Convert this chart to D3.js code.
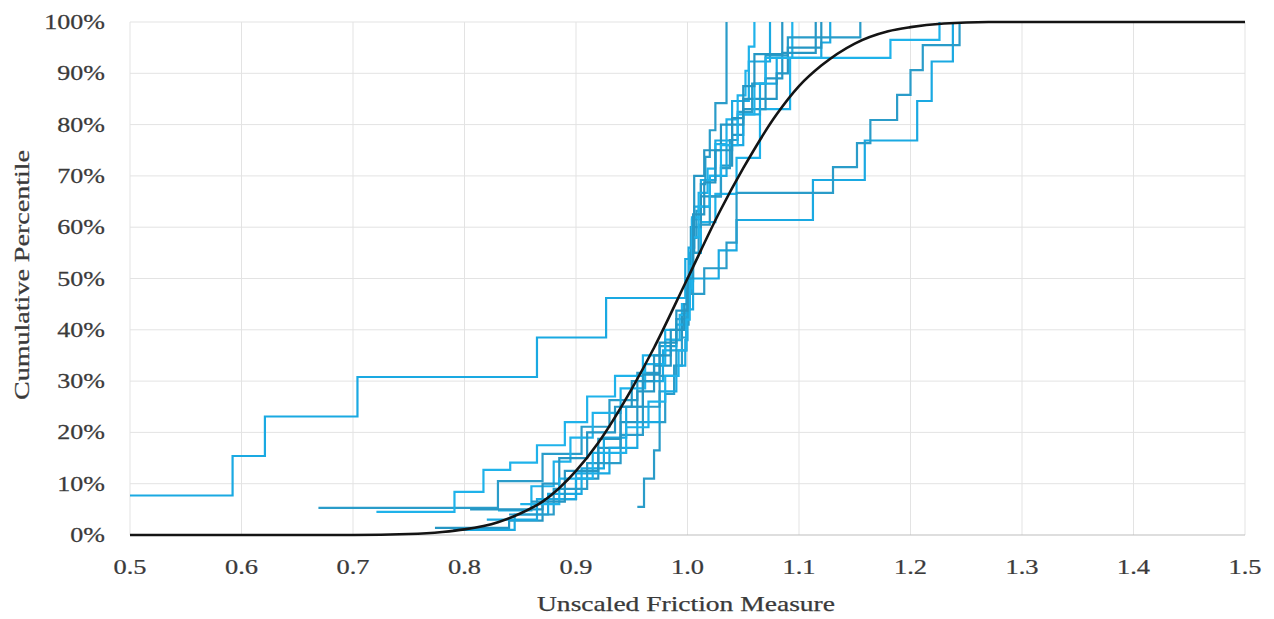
<!DOCTYPE html>
<html><head><meta charset="utf-8">
<script src="https://cdn.jsdelivr.net/npm/d3@7"></script>
<style>
html,body{margin:0;padding:0;background:#fff;}
svg{display:block;}
text{font-family:"Times New Roman","Liberation Serif",serif;fill:#3a3a3a;stroke:#3a3a3a;stroke-width:0.25;}
</style></head>
<body>
<svg id="chart" width="1274" height="619"></svg>
<script>
// ---- data (x = unscaled friction measure, y = cumulative percentile %) ----
const xTicks = [0.5,0.6,0.7,0.8,0.9,1.0,1.1,1.2,1.3,1.4,1.5];
const yTicks = [0,10,20,30,40,50,60,70,80,90,100];

const seriesA = [[0.5,7.7],[0.592,15.4],[0.621,23.1],[0.704,30.8],[0.865,38.5],[0.927,46.2],[0.998,53.8],[1.004,61.5],[1.012,69.2],[1.025,76.9],[1.04,84.6],[1.055,92.3],[1.074,100]];
const seriesB = [[0.669,5.3],[0.83,10.5],[0.87,15.8],[0.905,21.1],[0.93,26.3],[0.955,31.6],[0.975,36.8],[0.99,42.1],[1.0,47.4],[1.003,52.6],[1.005,57.9],[1.008,63.2],[1.012,68.4],[1.016,73.7],[1.02,78.9],[1.025,84.2],[1.035,100]];
const seriesC = [[0.721,4.5],[0.791,8.4],[0.817,12.7],[0.841,14.1],[0.865,17.5],[0.89,22],[0.91,27],[0.935,31],[0.96,35],[0.98,40],[0.995,45],[1.002,55],[1.012,61],[1.025,66.5],[1.044,73.5],[1.065,83],[1.092,93],[1.094,100]];
const seriesD = [[0.7735,1.4],[0.84,2.8],[0.87,7],[0.9,11],[0.92,17],[0.94,22],[0.955,28],[0.97,33],[0.985,38],[0.995,43],[1.0,48],[1.003,60],[1.012,66],[1.03,72],[1.04,78],[1.05,83],[1.07,89],[1.085,94],[1.115,100]];
const seriesE = [[0.79,1.0],[0.845,4],[0.875,8],[0.905,13],[0.925,19],[0.945,25],[0.96,30],[0.978,36],[0.99,41],[0.999,46],[1.001,56],[1.006,64],[1.02,70],[1.035,76],[1.05,82],[1.065,88],[1.08,93],[1.12,96],[1.128,100]];
const seriesF = [[0.955,5.5],[0.961,11],[0.97,16.5],[0.975,22],[0.98,27.5],[0.988,33],[0.995,38.5],[0.999,44],[1.002,49.5],[1.005,55],[1.01,60.5],[1.02,66],[1.03,71.5],[1.038,77],[1.045,82.5],[1.058,88],[1.07,93.5],[1.09,97],[1.155,100]];
const seriesG = [[0.83,4.8],[0.86,9.5],[0.88,14.3],[0.895,19],[0.915,23.8],[0.94,28.6],[0.962,33.3],[0.98,38.1],[0.993,42.9],[1.0,47.6],[1.002,52.4],[1.004,61.9],[1.01,66.7],[1.018,71.4],[1.025,76.2],[1.035,81],[1.045,85.7],[1.052,90.5],[1.055,95.2],[1.06,100]];
const seriesH = [[0.805,5.0],[0.87,10],[0.885,15],[0.91,20],[0.935,25],[0.95,30],[0.97,35],[0.985,40],[0.997,45],[1.0,50],[1.004,55],[1.006,70],[1.015,75],[1.03,80],[1.05,85],[1.08,90],[1.09,95],[1.12,100]];
const seriesI = [[0.82,3],[0.865,7],[0.9,12],[0.93,17],[0.955,22],[0.975,28],[0.99,33],[0.998,38],[1.0,44],[1.005,50],[1.028,55.5],[1.044,61.4],[1.1125,69.2],[1.159,76.9],[1.206,84.6],[1.219,92.3],[1.238,100]];
const seriesJ = [[0.84,4],[0.88,9],[0.91,14],[0.94,19.5],[0.96,25],[0.975,31],[0.99,36],[0.999,41],[1.001,47],[1.015,52],[1.035,57],[1.044,66.7],[1.1305,71.7],[1.152,76.4],[1.164,80.9],[1.188,85.8],[1.2,90.6],[1.211,95.5],[1.244,100]];
const seriesK = [[0.85,6],[0.885,11],[0.915,16],[0.945,21],[0.965,26],[0.98,31],[0.992,36],[0.999,42],[1.002,48],[1.004,58],[1.01,64],[1.02,70],[1.03,76],[1.045,82],[1.06,88],[1.07,93],[1.182,96.5],[1.226,100]];
const seriesL = [[0.86,6.5],[0.89,12.5],[0.92,18.75],[0.94,25],[0.96,31.25],[0.975,37.5],[0.99,43.75],[1.0,50],[1.005,62.5],[1.015,68.75],[1.025,75],[1.04,81.25],[1.05,87.5],[1.06,93.75],[1.085,100]];

const normalCurve = [[0.5,0],[0.7,0],[0.75,0.2],[0.78,0.6],[0.8,1.1],[0.83,2.5],[0.85,4.2],[0.87,6.5],[0.9,12.5],[0.92,18],[0.95,28.5],[0.97,36.5],[1.0,50],[1.03,63.5],[1.05,71.5],[1.08,82],[1.1,87.5],[1.12,91.5],[1.15,95.8],[1.18,98.2],[1.2,99],[1.23,99.7],[1.27,100],[1.5,100]];

const empirical = [seriesA,seriesB,seriesC,seriesD,seriesE,seriesF,seriesG,seriesH,seriesI,seriesJ,seriesK,seriesL];
const blues = ["#1aa9e2","#2a9cc9","#1fb2ea","#2596c4"];

// ---- layout ----
const svg = d3.select("#chart");
const mLeft = 130, mRight = 1245, mTop = 22, mBottom = 535;
const x = d3.scaleLinear().domain([0.5,1.5]).range([mLeft,mRight]);
const y = d3.scaleLinear().domain([0,100]).range([mBottom,mTop]);

// gridlines
svg.append("g").selectAll("line").data(xTicks).join("line")
  .attr("x1",d=>x(d)).attr("x2",d=>x(d)).attr("y1",mTop).attr("y2",mBottom)
  .attr("stroke","#e3e3e3").attr("stroke-width",1);
svg.append("g").selectAll("line").data(yTicks).join("line")
  .attr("x1",mLeft).attr("x2",mRight).attr("y1",d=>y(d)).attr("y2",d=>y(d))
  .attr("stroke",d=>d===0?"#bdbdbd":"#e3e3e3").attr("stroke-width",1);

// clip
svg.append("clipPath").attr("id","clip").append("rect")
  .attr("x",mLeft).attr("y",mTop-2).attr("width",mRight-mLeft).attr("height",mBottom-mTop+4);

const step = d3.line().x(d=>x(d[0])).y(d=>y(d[1])).curve(d3.curveStepAfter);
const gLines = svg.append("g").attr("clip-path","url(#clip)");
gLines.selectAll("path.emp").data(empirical).join("path")
  .attr("class","emp")
  .attr("d",step).attr("fill","none")
  .attr("stroke",(d,i)=>blues[i%blues.length]).attr("stroke-width",2.2);

const smooth = d3.line().x(d=>x(d[0])).y(d=>y(d[1])).curve(d3.curveMonotoneX);
gLines.append("path").datum(normalCurve).attr("d",smooth)
  .attr("fill","none").attr("stroke","#141414").attr("stroke-width",2.6);

// y tick labels
const yl = svg.append("g");
yTicks.forEach(t=>{
  yl.append("g").attr("transform",`translate(105,${y(t)+7}) scale(1.3,1)`)
    .append("text").attr("text-anchor","end").attr("font-size",20).text(t+"%");
});
// x tick labels
const xl = svg.append("g");
xTicks.forEach(t=>{
  xl.append("g").attr("transform",`translate(${x(t)},${574}) scale(1.2,1)`)
    .append("text").attr("text-anchor","middle").attr("font-size",22).text(d3.format(".1f")(t));
});
// axis titles
svg.append("text").attr("x",(537+835)/2).attr("y",611).attr("text-anchor","middle")
  .attr("font-size",21).attr("textLength",298).attr("lengthAdjust","spacingAndGlyphs")
  .text("Unscaled Friction Measure");
svg.append("text").attr("transform","translate(29,275) rotate(-90)").attr("text-anchor","middle")
  .attr("font-size",22).attr("textLength",250).attr("lengthAdjust","spacingAndGlyphs")
  .text("Cumulative Percentile");
</script>
</body></html>
